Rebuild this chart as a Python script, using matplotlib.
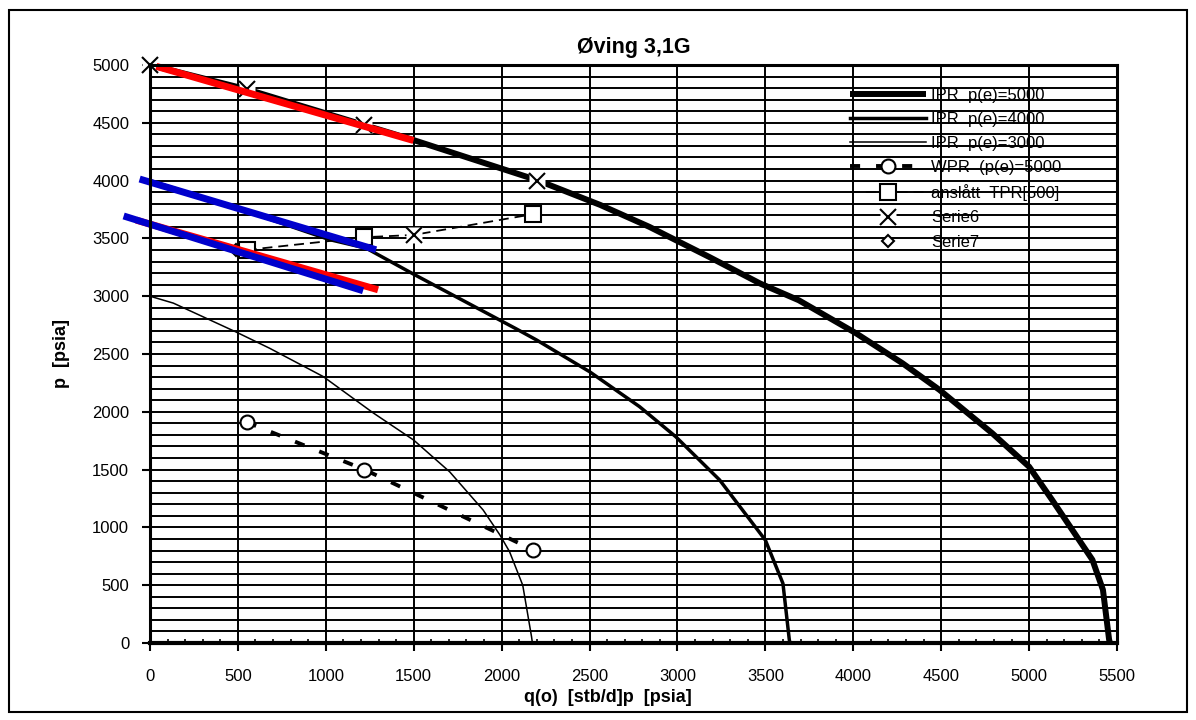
import numpy as np
import matplotlib
matplotlib.use("Agg")
import matplotlib.pyplot as plt
from matplotlib.patches import Rectangle

plt.rcParams['font.family'] = ['Liberation Sans', 'DejaVu Sans']

# IPR curves
ipr5000_q = [0, 550, 1220, 1480, 2200, 2560, 2840, 3180, 3470, 3690, 4015, 4280, 4490, 4790, 5000, 5130, 5360, 5420, 5455, 5460]
ipr5000_p = [5000, 4790, 4480, 4360, 4005, 3790, 3600, 3340, 3110, 2965, 2680, 2420, 2190, 1815, 1525, 1240, 720, 460, 30, 0]

ipr4000_q = [0, 500, 1020, 1230, 1500, 2080, 2200, 2500, 2784, 2990, 3240, 3500, 3600, 3636, 3640]
ipr4000_p = [4000, 3760, 3490, 3415, 3190, 2720, 2620, 2347, 2045, 1785, 1410, 890, 515, 30, 0]

ipr3000_q = [0, 133, 490, 680, 985, 1270, 1500, 1705, 1895, 1990, 2045, 2120, 2170, 2175]
ipr3000_p = [3000, 2940, 2690, 2550, 2305, 1990, 1755, 1480, 1150, 935, 790, 500, 55, 0]

# WPR and TPR
wpr_q = [550, 1220, 2180]
wpr_p = [1910, 1500, 805]

tpr_q = [550, 1220, 1500, 2180]
tpr_p = [3400, 3510, 3530, 3710]

serie6_q = [0, 550, 1220, 2200, 1500]
serie6_p = [5000, 4790, 4480, 4000, 3530]

serie7_q = [490]
serie7_p = [3400]

# tangent lines drawn on top
red1_q = [55, 1480]
red1_p = [4980, 4355]
blue1_q = [-40, 1267]
blue1_p = [4005, 3410]
red2_q = [-60, 1278]
red2_p = [3650, 3064]
blue2_q = [-131, 1193]
blue2_p = [3685, 3056]

legend_labels = ['IPR  p(e)=5000', 'IPR  p(e)=4000', 'IPR  p(e)=3000',
                 'WPR  (p(e)=5000', 'anslått  TPR[500]', 'Serie6', 'Serie7']

fig = plt.figure(figsize=(11.96, 7.2), dpi=100)
ax = fig.add_axes([150 / 1196, 1 - 643 / 720, (1117 - 150) / 1196, (643 - 65) / 720])

ax.set_xlim(0, 5500)
ax.set_ylim(0, 5000)

# grid
for y in np.arange(100, 5000, 100):
    ax.axhline(y, color='black', lw=1.4, zorder=1)
for x in np.arange(500, 5500, 500):
    ax.axvline(x, color='black', lw=1.4, zorder=1)

l5, = ax.plot(ipr5000_q, ipr5000_p, color='black', lw=4.3, zorder=3, solid_capstyle='butt')
l4, = ax.plot(ipr4000_q, ipr4000_p, color='black', lw=2.5, zorder=3)
l3, = ax.plot(ipr3000_q, ipr3000_p, color='black', lw=1.1, zorder=3)

lw_, = ax.plot(wpr_q, wpr_p, color='black', lw=2.8, ls=(0, (2.6, 4.1)), marker='o',
               ms=10, mfc='white', mec='black', mew=1.5, zorder=4)
lt, = ax.plot(tpr_q, tpr_p, color='black', lw=1.3, ls=(0, (5.5, 3.3)), marker='s',
              ms=11, mfc='white', mec='black', mew=1.5, markevery=[0, 1, 3], zorder=4)

l7, = ax.plot(serie7_q, serie7_p, ls='none', marker='D', ms=6, mfc='white', mec='black',
              mew=1.5, zorder=4)

bg, = ax.plot(serie6_q, serie6_p, ls='none', marker='s', ms=12, mfc='white', mec='none',
              zorder=5, clip_on=False)
l6, = ax.plot(serie6_q, serie6_p, ls='none', marker='x', ms=11, mec='black', mew=1.5,
              zorder=6, clip_on=False)

ax.plot(red1_q, red1_p, color='#ff0000', lw=5, zorder=7, clip_on=False)
ax.plot(red2_q, red2_p, color='#ff0000', lw=5, zorder=7, clip_on=False)
ax.plot(blue1_q, blue1_p, color='#0000cc', lw=5, zorder=8, clip_on=False)
ax.plot(blue2_q, blue2_p, color='#0000cc', lw=5, zorder=8, clip_on=False)

# axes styling
for s in ax.spines.values():
    s.set_linewidth(2.2)
    s.set_zorder(9)
ax.spines['bottom'].set_linewidth(3)
ax.set_xticks(np.arange(0, 5501, 500))
ax.set_yticks(np.arange(0, 5001, 500))
ax.set_xticks(np.arange(0, 5501, 100), minor=True)
ax.tick_params(axis='x', which='major', direction='out', length=6, width=1.5, pad=13, labelsize=12)
ax.tick_params(axis='x', which='minor', direction='in', length=3, width=1.2)
ax.tick_params(axis='y', which='major', direction='out', length=6, width=1.5, pad=9, labelsize=12)

leg = ax.legend([l5, l4, l3, lw_, lt, (bg, l6), l7], legend_labels,
                loc='upper left', bbox_to_anchor=(693 / 967, 1 - 16 / 578),
                frameon=False, fontsize=12, handlelength=4.6, handletextpad=0.3,
                labelspacing=0.55, borderaxespad=0)
leg.set_zorder(10)

fig.text(633.5 / 1196, 1 - 47 / 720, 'Øving 3,1G', ha='center', va='center',
         fontsize=15.5, fontweight='bold')
fig.text(608 / 1196, 1 - 697 / 720, 'q(o)  [stb/d]p  [psia]', ha='center', va='center',
         fontsize=13, fontweight='bold')
fig.text(62 / 1196, 1 - 354 / 720, 'p  [psia]', ha='center', va='center', rotation=90,
         fontsize=13, fontweight='bold')

fig.patches.append(Rectangle((9 / 1196, 8 / 720), 1178 / 1196, 702 / 720,
                             transform=fig.transFigure, fill=False, ec='black', lw=1.5))

fig.savefig('out.png', dpi=100)
